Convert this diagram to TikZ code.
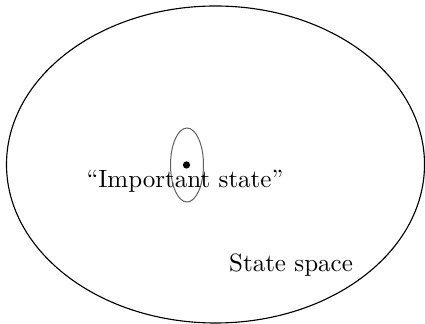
\documentclass[tikz,border=0pt]{standalone}
\usepackage{tikz}
\tikzset{
  region/.style={line width=0.45pt, black},
  subregion/.style={line width=0.4pt, gray!75!black},
  lbl/.style={anchor=base, inner sep=0pt, font=\normalsize},
}

\begin{document}
\begin{tikzpicture}[x=0.4pt,y=-0.4pt]
  \useasboundingbox (0,0) rectangle (425,324);
  % whole state space
  \draw[region] (215.5,164.5) ellipse [x radius=209, y radius=158.5];
  \node[lbl] (spacelbl) at (291,272) {State space};
  % neighbourhood of the important state
  \draw[subregion] (187,165) ellipse [x radius=16.5, y radius=37];
  \fill (186.5,165) circle (3.6);
  \node[lbl] (statelbl) at (185,188) {``Important state''};
\end{tikzpicture}
\end{document}
